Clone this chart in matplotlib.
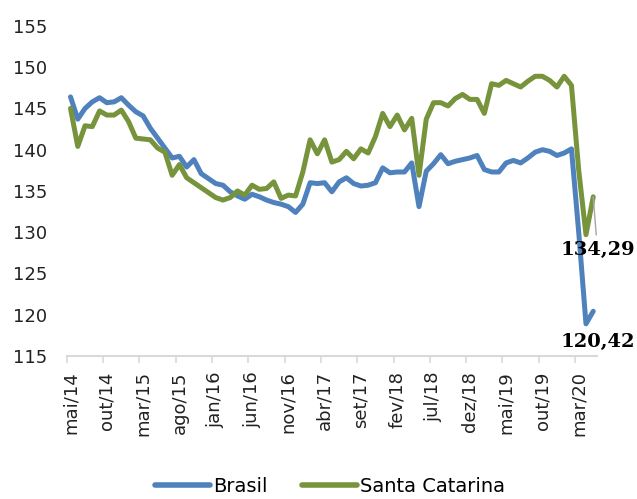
import matplotlib.pyplot as plt

# índices mensais mai/14 .. mai/20
brasil = [146.4, 143.7, 145.0, 145.8, 146.3, 145.7, 145.8, 146.3, 145.4, 144.6,
          144.1, 142.6, 141.4, 140.2, 139.0, 139.2, 137.9, 138.8, 137.1, 136.5,
          135.9, 135.7, 134.9, 134.4, 134.0, 134.6, 134.3, 133.9, 133.6, 133.4,
          133.1, 132.4, 133.4, 136.0, 135.9, 136.0, 134.9, 136.1, 136.6, 135.9,
          135.6, 135.7, 136.0, 137.8, 137.2, 137.3, 137.3, 138.4, 133.1, 137.4,
          138.3, 139.4, 138.3, 138.6, 138.8, 139.0, 139.3, 137.6, 137.3, 137.3,
          138.4, 138.7, 138.4, 139.0, 139.7, 140.0, 139.8, 139.3, 139.6, 140.1,
          130.0, 118.9, 120.42]

santa_catarina = [145.0, 140.4, 142.9, 142.8, 144.7, 144.2, 144.2, 144.8, 143.4, 141.4,
                  141.3, 141.2, 140.2, 139.7, 136.9, 138.2, 136.6, 136.0, 135.4, 134.8,
                  134.2, 133.9, 134.2, 135.0, 134.5, 135.7, 135.2, 135.3, 136.1, 134.1,
                  134.5, 134.4, 137.3, 141.2, 139.5, 141.2, 138.5, 138.8, 139.8, 138.9,
                  140.1, 139.6, 141.6, 144.4, 142.8, 144.2, 142.4, 143.8, 136.9, 143.7,
                  145.7, 145.7, 145.3, 146.2, 146.7, 146.1, 146.1, 144.4, 148.0, 147.8,
                  148.4, 148.0, 147.6, 148.3, 148.9, 148.9, 148.4, 147.6, 148.9, 147.8,
                  137.5, 129.7, 134.29]

tick_labels = ['mai/14', 'out/14', 'mar/15', 'ago/15', 'jan/16', 'jun/16', 'nov/16',
               'abr/17', 'set/17', 'fev/18', 'jul/18', 'dez/18', 'mai/19', 'out/19',
               'mar/20']

AZUL = '#4F81BD'
VERDE = '#77933C'
CINZA = '#D9D9D9'

fig = plt.figure(figsize=(6.37, 4.99), dpi=100)
ax = fig.add_axes([0.105, 0.2866, 0.832, 0.6614])

x = list(range(len(brasil)))
ax.plot(x, brasil, color=AZUL, lw=3.6, solid_joinstyle='round',
        solid_capstyle='round', label='Brasil')
ax.plot(x, santa_catarina, color=VERDE, lw=3.6, solid_joinstyle='round',
        solid_capstyle='round', label='Santa Catarina')

ax.set_xlim(-0.5, len(brasil) - 0.5)
ax.set_ylim(115, 155)
ax.set_yticks(range(115, 156, 5))

# rótulos no centro da categoria, marcas entre categorias
pos = list(range(0, len(brasil), 5))
ax.set_xticks(pos)
ax.set_xticklabels(tick_labels, rotation=90)
ax.set_xticks([p - 0.5 for p in pos], minor=True)
ax.tick_params(axis='x', which='major', length=0, pad=11, labelsize=13,
               labelcolor='#222222')
ax.tick_params(axis='x', which='minor', length=5, width=1.2, color=CINZA)
ax.tick_params(axis='y', length=0, pad=14, labelsize=13, labelcolor='#222222')

for s in ['top', 'right', 'left']:
    ax.spines[s].set_visible(False)
ax.spines['bottom'].set_color(CINZA)
ax.spines['bottom'].set_linewidth(1.5)

# rótulos dos últimos valores
ax.annotate('134,29', xy=(x[-1], santa_catarina[-1]), xytext=(3, -38),
            textcoords='offset points', ha='center', va='center',
            fontsize=14, fontweight='bold', family='DejaVu Serif',
            annotation_clip=False,
            arrowprops=dict(arrowstyle='-', color='#A6A6A6', lw=1,
                            shrinkA=2, shrinkB=0))
ax.annotate('120,42', xy=(x[-1], brasil[-1]), xytext=(3.5, -22),
            textcoords='offset points', ha='center', va='center',
            fontsize=14, fontweight='bold', family='DejaVu Serif',
            annotation_clip=False)

leg = fig.legend(loc='center', bbox_to_anchor=(0.518, 0.026), ncol=2,
                 frameon=False, fontsize=14, handlelength=2.8,
                 handletextpad=0.15, columnspacing=1.8, borderpad=0.1)
for ln in leg.get_lines():
    ln.set_linewidth(4)
    ln.set_solid_capstyle('round')

fig.savefig('out.png', dpi=100)
